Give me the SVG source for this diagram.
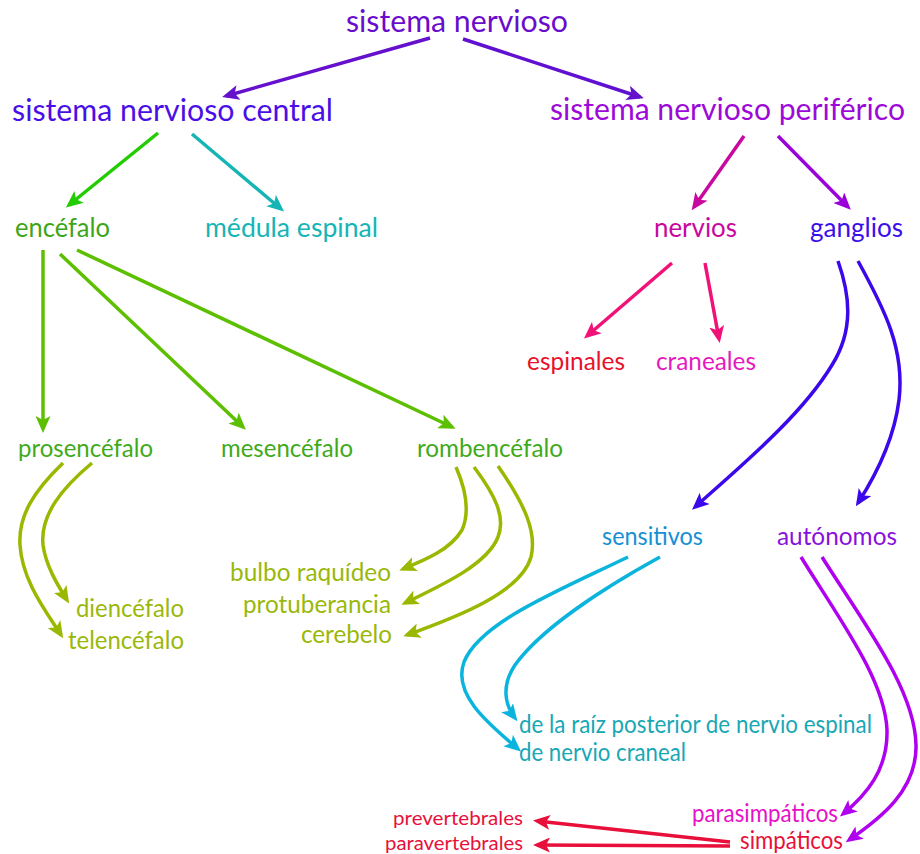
<svg xmlns="http://www.w3.org/2000/svg" width="920" height="854" viewBox="0 0 920 854">
<style>
text{font-family:Lato,"Open Sans","Liberation Sans",sans-serif;}
.t1{font-size:31px}
.t2{font-size:26.5px}
.t3{font-size:24.5px}
.t4{font-size:19.5px}
path{fill:none;stroke-width:3.5;stroke-linecap:butt}
</style>
<defs>
<marker id="m-purple" markerUnits="userSpaceOnUse" markerWidth="17" markerHeight="15" viewBox="0 0 17 15" refX="13" refY="7.5" orient="auto"><polygon points="0,0 17,7.5 0,15 4,7.5" fill="#6510cc"/></marker>
<marker id="m-green" markerUnits="userSpaceOnUse" markerWidth="17" markerHeight="15" viewBox="0 0 17 15" refX="13" refY="7.5" orient="auto"><polygon points="0,0 17,7.5 0,15 4,7.5" fill="#22cc00"/></marker>
<marker id="m-teal" markerUnits="userSpaceOnUse" markerWidth="17" markerHeight="15" viewBox="0 0 17 15" refX="13" refY="7.5" orient="auto"><polygon points="0,0 17,7.5 0,15 4,7.5" fill="#16b5b5"/></marker>
<marker id="m-mag" markerUnits="userSpaceOnUse" markerWidth="17" markerHeight="15" viewBox="0 0 17 15" refX="13" refY="7.5" orient="auto"><polygon points="0,0 17,7.5 0,15 4,7.5" fill="#c8089e"/></marker>
<marker id="m-violet" markerUnits="userSpaceOnUse" markerWidth="17" markerHeight="15" viewBox="0 0 17 15" refX="13" refY="7.5" orient="auto"><polygon points="0,0 17,7.5 0,15 4,7.5" fill="#9a00d9"/></marker>
<marker id="m-pink" markerUnits="userSpaceOnUse" markerWidth="17" markerHeight="15" viewBox="0 0 17 15" refX="13" refY="7.5" orient="auto"><polygon points="0,0 17,7.5 0,15 4,7.5" fill="#f01277"/></marker>
<marker id="m-blue" markerUnits="userSpaceOnUse" markerWidth="17" markerHeight="15" viewBox="0 0 17 15" refX="13" refY="7.5" orient="auto"><polygon points="0,0 17,7.5 0,15 4,7.5" fill="#3a08ea"/></marker>
<marker id="m-lgreen" markerUnits="userSpaceOnUse" markerWidth="17" markerHeight="15" viewBox="0 0 17 15" refX="13" refY="7.5" orient="auto"><polygon points="0,0 17,7.5 0,15 4,7.5" fill="#5cbf00"/></marker>
<marker id="m-olive" markerUnits="userSpaceOnUse" markerWidth="17" markerHeight="15" viewBox="0 0 17 15" refX="13" refY="7.5" orient="auto"><polygon points="0,0 17,7.5 0,15 4,7.5" fill="#99b800"/></marker>
<marker id="m-cyan" markerUnits="userSpaceOnUse" markerWidth="17" markerHeight="15" viewBox="0 0 17 15" refX="13" refY="7.5" orient="auto"><polygon points="0,0 17,7.5 0,15 4,7.5" fill="#0ab4dc"/></marker>
<marker id="m-aviolet" markerUnits="userSpaceOnUse" markerWidth="17" markerHeight="15" viewBox="0 0 17 15" refX="13" refY="7.5" orient="auto"><polygon points="0,0 17,7.5 0,15 4,7.5" fill="#b000f0"/></marker>
<marker id="m-red" markerUnits="userSpaceOnUse" markerWidth="17" markerHeight="15" viewBox="0 0 17 15" refX="13" refY="7.5" orient="auto"><polygon points="0,0 17,7.5 0,15 4,7.5" fill="#e8103a"/></marker>
</defs>

<g id="connectors">
<path d="M430,38 L226,96" stroke="#6510cc" marker-end="url(#m-purple)"/>
<path d="M463,39 L640,97" stroke="#6010d0" marker-end="url(#m-purple)"/>
<path d="M158,133 L69,205" stroke="#22cc00" marker-end="url(#m-green)"/>
<path d="M192,134 L281,209" stroke="#16b5b5" marker-end="url(#m-teal)"/>
<path d="M744,136 L694,207" stroke="#c8089e" marker-end="url(#m-mag)"/>
<path d="M778,136 L848,207" stroke="#9a00d9" marker-end="url(#m-violet)"/>
<path d="M672,263 L587,336" stroke="#f01277" marker-end="url(#m-pink)"/>
<path d="M705,263 L719,339" stroke="#f01277" marker-end="url(#m-pink)"/>
<path d="M838,261 C850,295 854,330 832,365 C802,415 742,465 695,507" stroke="#3a08ea" marker-end="url(#m-blue)"/>
<path d="M858,261 C885,310 905,350 899,400 C894,440 876,475 858,503" stroke="#3a08ea" marker-end="url(#m-blue)"/>
<path d="M43,250 L43,429" stroke="#5cbf00" marker-end="url(#m-lgreen)"/>
<path d="M60,254 L243,427" stroke="#5cbf00" marker-end="url(#m-lgreen)"/>
<path d="M77,250 L452,427" stroke="#5cbf00" marker-end="url(#m-lgreen)"/>
<path d="M92,463 C62,488 40,515 43,545 C46,566 57,584 67,600" stroke="#99b800" marker-end="url(#m-olive)"/>
<path d="M63,463 C35,490 18,515 20,545 C22,580 45,610 61,635" stroke="#99b800" marker-end="url(#m-olive)"/>
<path d="M456,467 C466,490 470,512 462,530 C450,550 425,560 403,569" stroke="#99b800" marker-end="url(#m-olive)"/>
<path d="M474,467 C495,495 506,517 498,537 C487,565 440,586 405,603" stroke="#99b800" marker-end="url(#m-olive)"/>
<path d="M498,466 C525,505 537,532 531,557 C521,592 460,616 407,635" stroke="#99b800" marker-end="url(#m-olive)"/>
<path d="M660,557 C600,590 540,630 515,665 C501,686 505,705 515,718" stroke="#0ab4dc" marker-end="url(#m-cyan)"/>
<path d="M628,557 C560,590 480,622 464,662 C452,695 490,725 518,749" stroke="#0ab4dc" marker-end="url(#m-cyan)"/>
<path d="M801,557 C840,620 885,680 887,730 C888,770 866,795 843,814" stroke="#b000f0" marker-end="url(#m-aviolet)"/>
<path d="M822,557 C865,625 915,690 916,745 C917,790 881,818 849,840" stroke="#b000f0" marker-end="url(#m-aviolet)"/>
<path d="M730,842 L537,821" stroke="#e8103a" marker-end="url(#m-red)"/>
<path d="M730,846 L537,845" stroke="#e8103a" marker-end="url(#m-red)"/>
</g>

<g id="n-sistema-nervioso"><text class="t1" x="346" y="32" textLength="222" lengthAdjust="spacingAndGlyphs" fill="#6a0ccc">sistema nervioso</text></g>
<g id="n-snc"><text class="t1" x="12" y="121" textLength="321" lengthAdjust="spacingAndGlyphs" fill="#4a0fe6">sistema nervioso central</text></g>
<g id="n-snp"><text class="t1" x="550" y="120" textLength="355" lengthAdjust="spacingAndGlyphs" fill="#9c0ad8">sistema nervioso periférico</text></g>
<g id="n-encefalo"><text class="t2" x="15" y="237" textLength="95" lengthAdjust="spacingAndGlyphs" fill="#3da618">encéfalo</text></g>
<g id="n-medula"><text class="t2" x="205" y="237" textLength="173" lengthAdjust="spacingAndGlyphs" fill="#16b5b5">médula espinal</text></g>
<g id="n-nervios"><text class="t2" x="654" y="237" textLength="83" lengthAdjust="spacingAndGlyphs" fill="#c8089e">nervios</text></g>
<g id="n-ganglios"><text class="t2" x="810" y="237" textLength="93" lengthAdjust="spacingAndGlyphs" fill="#3a10ea">ganglios</text></g>
<g id="n-espinales"><text class="t3" x="527" y="370" textLength="98" lengthAdjust="spacingAndGlyphs" fill="#e8102a">espinales</text></g>
<g id="n-craneales"><text class="t3" x="656" y="370" textLength="100" lengthAdjust="spacingAndGlyphs" fill="#e619c0">craneales</text></g>
<g id="n-prosencefalo"><text class="t3" x="18" y="457" textLength="135" lengthAdjust="spacingAndGlyphs" fill="#3faa1a">prosencéfalo</text></g>
<g id="n-mesencefalo"><text class="t3" x="221" y="457" textLength="132" lengthAdjust="spacingAndGlyphs" fill="#3faa1a">mesencéfalo</text></g>
<g id="n-rombencefalo"><text class="t3" x="417" y="457" textLength="146" lengthAdjust="spacingAndGlyphs" fill="#3faa1a">rombencéfalo</text></g>
<g id="n-diencefalo"><text class="t3" x="76" y="617" textLength="108" lengthAdjust="spacingAndGlyphs" fill="#9ab80a">diencéfalo</text></g>
<g id="n-telencefalo"><text class="t3" x="68" y="649" textLength="116" lengthAdjust="spacingAndGlyphs" fill="#9ab80a">telencéfalo</text></g>
<g id="n-bulbo"><text class="t3" x="230" y="581" textLength="161" lengthAdjust="spacingAndGlyphs" fill="#9ab80a">bulbo raquídeo</text></g>
<g id="n-protuberancia"><text class="t3" x="243" y="613" textLength="148" lengthAdjust="spacingAndGlyphs" fill="#9ab80a">protuberancia</text></g>
<g id="n-cerebelo"><text class="t3" x="301" y="643" textLength="91" lengthAdjust="spacingAndGlyphs" fill="#9ab80a">cerebelo</text></g>
<g id="n-sensitivos"><text class="t3" x="602" y="545" textLength="101" lengthAdjust="spacingAndGlyphs" fill="#1590d5">sensitivos</text></g>
<g id="n-autonomos"><text class="t3" x="777" y="545" textLength="120" lengthAdjust="spacingAndGlyphs" fill="#8811dd">autónomos</text></g>
<g id="n-raiz"><text class="t3" x="519" y="733" textLength="353" lengthAdjust="spacingAndGlyphs" fill="#17a7b5">de la raíz posterior de nervio espinal</text></g>
<g id="n-craneal"><text class="t3" x="519" y="761" textLength="167" lengthAdjust="spacingAndGlyphs" fill="#17a7b5">de nervio craneal</text></g>
<g id="n-parasimpaticos"><text class="t3" x="692" y="822" textLength="146" lengthAdjust="spacingAndGlyphs" fill="#e610c8">parasimpáticos</text></g>
<g id="n-simpaticos"><text class="t3" x="740" y="849" textLength="103" lengthAdjust="spacingAndGlyphs" fill="#e8103a">simpáticos</text></g>
<g id="n-prevertebrales"><text class="t4" x="393" y="825" textLength="130" lengthAdjust="spacingAndGlyphs" fill="#e8103a">prevertebrales</text></g>
<g id="n-paravertebrales"><text class="t4" x="385" y="850" textLength="138" lengthAdjust="spacingAndGlyphs" fill="#e8103a">paravertebrales</text></g>
</svg>
